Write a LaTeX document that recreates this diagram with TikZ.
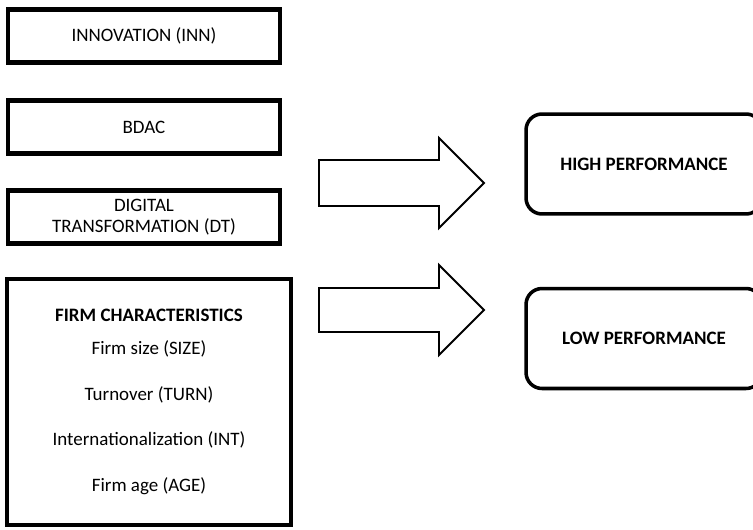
\documentclass[tikz,border=0pt]{standalone}
\usepackage{fontspec}
\setmainfont{Carlito}
\usetikzlibrary{positioning}

\begin{document}
\begin{tikzpicture}[x=0.02cm,y=-0.02cm,
  every node/.style={font=\fontsize{10.8}{12.3}\selectfont},
  varbox/.style={draw,line width=2.3pt,minimum width=5.44cm,minimum height=1.06cm,align=center,inner sep=2pt},
  perfbox/.style={draw,line width=2pt,rounded corners=0.32cm,minimum width=4.72cm,minimum height=2cm,font=\fontsize{10.8}{12.3}\selectfont\bfseries},
  bigarrow/.style={draw,line width=1.1pt}]
\clip (0,0) rectangle (753,530);
\node[varbox] (inn) at (144,36) {INNOVATION (INN)};
\node[varbox] (bdac) at (144,127) {BDAC};
\node[varbox] (dt) at (144,217) {DIGITAL\\TRANSFORMATION (DT)};
\node[varbox,minimum width=5.68cm,minimum height=4.92cm] (firm) at (149,402) {\textbf{FIRM CHARACTERISTICS}\\[6.5pt]Firm size (SIZE)\\[13.7pt]Turnover (TURN)\\[13.7pt]Internationalization (INT)\\[13.7pt]Firm age (AGE)};
\node[perfbox] (high) at (644,164) {HIGH PERFORMANCE};
\node[perfbox] (low) at (644,338.5) {LOW PERFORMANCE};
% block arrows
\coordinate (tailhigh) at (319,183);
\coordinate (taillow) at (319,310);
\draw[bigarrow] (tailhigh) ++(0,-23) -- ++(120,0) -- ++(0,-22) -- ++(45,45) -- ++(-45,45) -- ++(0,-22) -- ++(-120,0) -- cycle;
\draw[bigarrow] (taillow) ++(0,-22) -- ++(120,0) -- ++(0,-23) -- ++(45,45) -- ++(-45,45) -- ++(0,-23) -- ++(-120,0) -- cycle;
\end{tikzpicture}
\end{document}
